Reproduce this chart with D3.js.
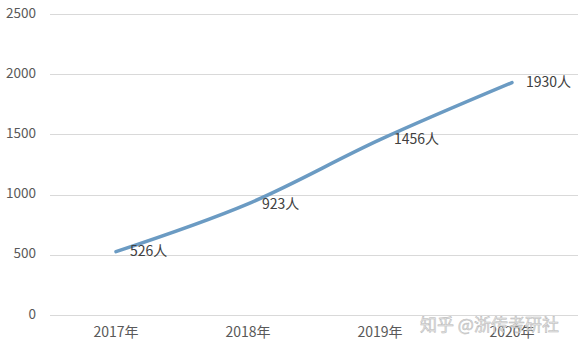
<!DOCTYPE html>
<html>
<head>
<meta charset="utf-8">
<script src="https://cdn.jsdelivr.net/npm/d3@7"></script>
<style>
  body { margin: 0; background: #fff; }
  text { font-family: "Noto Sans CJK SC", "DejaVu Sans", sans-serif; }
</style>
</head>
<body>
<div id="chart"></div>
<script>
var years = ["2017年", "2018年", "2019年", "2020年"];
var people = [526, 923, 1456, 1930];
var labels = ["526人", "923人", "1456人", "1930人"];
var yTicks = [0, 500, 1000, 1500, 2000, 2500];

var width = 578;
var height = 352;
var margin = { top: 14, right: 0, bottom: 37, left: 50 };

var svg = d3.select("#chart")
  .append("svg")
  .attr("width", width)
  .attr("height", height);

var x = d3.scaleBand()
  .domain(years)
  .range([margin.left, width - margin.right]);

var y = d3.scaleLinear()
  .domain([0, 2500])
  .range([height - margin.bottom, margin.top]);

// gridlines
svg.append("g")
  .selectAll("line")
  .data(yTicks)
  .join("line")
  .attr("x1", margin.left)
  .attr("x2", width - margin.right)
  .attr("y1", d => Math.round(y(d)) + 0.5)
  .attr("y2", d => Math.round(y(d)) + 0.5)
  .attr("stroke", "#d9d9d9")
  .attr("stroke-width", 1);

// y axis labels
svg.append("g")
  .selectAll("text")
  .data(yTicks)
  .join("text")
  .attr("x", 36)
  .attr("y", d => y(d))
  .attr("text-anchor", "end")
  .attr("dominant-baseline", "middle")
  .attr("fill", "#595959")
  .style("font-size", "13.5px")
  .text(d => d);

// x axis labels
svg.append("g")
  .selectAll("text")
  .data(years)
  .join("text")
  .attr("x", d => x(d) + x.bandwidth() / 2)
  .attr("y", 333)
  .attr("text-anchor", "middle")
  .attr("dominant-baseline", "middle")
  .attr("fill", "#595959")
  .style("font-size", "14px")
  .text(d => d);

// line
var line = d3.line()
  .x((d, i) => x(years[i]) + x.bandwidth() / 2)
  .y(d => y(d))
  .curve(d3.curveCatmullRom);

svg.append("path")
  .datum(people)
  .attr("fill", "none")
  .attr("stroke", "#6b9bc3")
  .attr("stroke-width", 3.5)
  .attr("stroke-linejoin", "round")
  .attr("stroke-linecap", "round")
  .attr("d", line);

// data labels
svg.append("g")
  .selectAll("text")
  .data(people)
  .join("text")
  .attr("x", (d, i) => x(years[i]) + x.bandwidth() / 2 + 14)
  .attr("y", d => y(d) + 1)
  .attr("dominant-baseline", "middle")
  .attr("fill", "#404040")
  .style("font-size", "14px")
  .text((d, i) => labels[i]);

// watermark
svg.append("text")
  .attr("x", 420)
  .attr("y", 326)
  .attr("dominant-baseline", "middle")
  .attr("fill", "#e4e4e4")
  .attr("stroke", "#b0b0b0")
  .attr("stroke-width", 0.5)
  .attr("opacity", 0.9)
  .style("font-size", "17px")
  .text("知乎 @浙传考研社");
</script>
</body>
</html>
